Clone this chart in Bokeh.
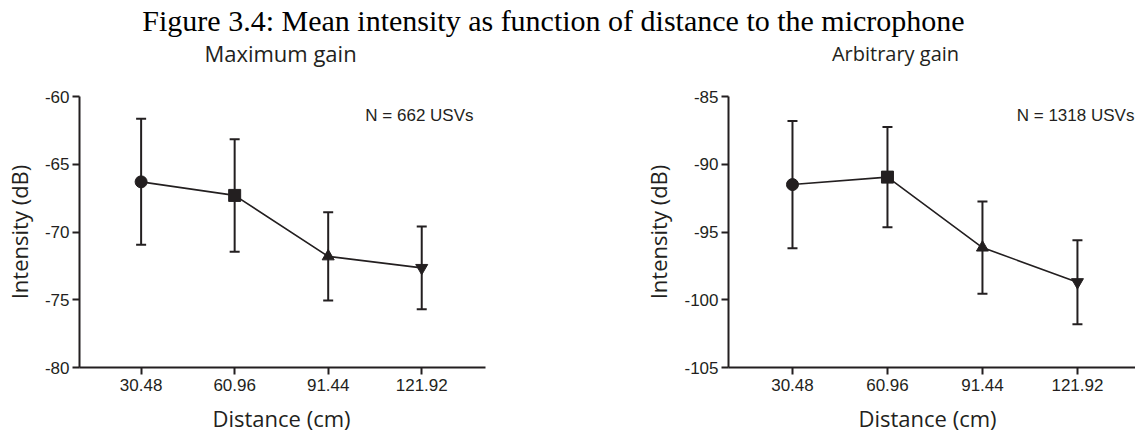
from bokeh.plotting import figure
from bokeh.models import Range1d, FixedTicker, Whisker, TeeHead, ColumnDataSource, Label
from bokeh.layouts import column, row
from bokeh.embed import file_html
from bokeh.resources import INLINE
from bokeh.core.properties import value

# ---------------- data ----------------
main_title = "Figure 3.4: Mean intensity as function of distance to the microphone"
distances = [30.48, 60.96, 91.44, 121.92]
distance_labels = ["30.48", "60.96", "91.44", "121.92"]
markers = ["circle", "square", "triangle", "inverted_triangle"]
x_label = "Distance (cm)"
y_label = "Intensity (dB)"

max_title = "Maximum gain"
max_mean = [-66.3, -67.3, -71.8, -72.65]
max_err = [4.65, 4.15, 3.25, 3.05]
max_ticks = [-80, -75, -70, -65, -60]
max_n = "N = 662 USVs"

arb_title = "Arbitrary gain"
arb_mean = [-91.5, -90.95, -96.15, -98.7]
arb_err = [4.7, 3.7, 3.4, 3.1]
arb_ticks = [-105, -100, -95, -90, -85]
arb_n = "N = 1318 USVs"

INK = "#231f20"
W = 1135
HEAD_H = 68
FOOT_H = 32
PANEL_H = 432 - HEAD_H - FOOT_H


def strip(height):
    f = figure(width=W, height=height, output_backend="svg", toolbar_location=None,
               x_range=Range1d(0, W), y_range=Range1d(0, height), min_border=0,
               x_axis_location=None, y_axis_location=None, title_location=None)
    f.grid.visible = False
    f.outline_line_color = None
    f.background_fill_color = "white"
    f.border_fill_color = "white"
    return f


def panel(mean, err, ticks, n_text, n_pos, width, bl, br, xr):
    p = figure(width=width, height=PANEL_H, output_backend="svg", toolbar_location=None,
               x_range=Range1d(*xr), y_range=Range1d(ticks[0], ticks[-1]),
               min_border_left=bl, min_border_right=br, min_border_top=96 - HEAD_H,
               min_border_bottom=33, title_location=None)
    p.background_fill_color = "white"
    p.border_fill_color = "white"
    p.outline_line_color = None
    p.grid.visible = False

    for ax in (p.xaxis[0], p.yaxis[0]):
        ax.axis_line_width = 2
        ax.axis_line_color = INK
        ax.major_tick_line_width = 2
        ax.major_tick_line_color = INK
        ax.major_tick_out = 7
        ax.major_tick_in = 0
        ax.minor_tick_line_color = None
        ax.major_label_text_font = "Liberation Sans"
        ax.major_label_text_font_size = "17px"
        ax.major_label_text_color = INK
        ax.axis_label_text_font = "Open Sans"
        ax.axis_label_text_font_size = "22px"
        ax.axis_label_text_font_style = "normal"
        ax.axis_label_text_color = INK

    p.xaxis.ticker = FixedTicker(ticks=distances)
    p.xaxis.major_label_overrides = dict(zip(distances, distance_labels))
    p.xaxis.major_label_standoff = 4

    p.yaxis.ticker = FixedTicker(ticks=ticks)
    p.yaxis.major_label_overrides = {t: str(t) for t in ticks}
    p.yaxis.axis_label = y_label
    p.yaxis.major_label_standoff = 3
    p.yaxis.axis_label_standoff = 8

    src = ColumnDataSource(dict(
        x=distances, mean=mean,
        upper=[m + e for m, e in zip(mean, err)],
        lower=[m - e for m, e in zip(mean, err)],
        marker=markers))

    wh = Whisker(base="x", upper="upper", lower="lower", source=src,
                 line_color=INK, line_width=2,
                 upper_head=TeeHead(size=10, line_color=INK, line_width=2),
                 lower_head=TeeHead(size=10, line_color=INK, line_width=2))
    p.add_layout(wh)
    p.line("x", "mean", source=src, line_color=INK, line_width=1.6)
    p.scatter("x", "mean", source=src, marker="marker", size=12,
              fill_color=INK, line_color=INK)

    p.add_layout(Label(x=n_pos[0], y=n_pos[1], text=n_text, text_align="right",
                       text_baseline="middle", text_font="Liberation Sans",
                       text_font_size="17px", text_color=INK))
    return p


p1 = panel(max_mean, max_err, max_ticks, max_n, (138.8, -61.4),
           567, 77, 82, (10.4, 142.7))
p2 = panel(arb_mean, arb_err, arb_ticks, arb_n, (140.2, -86.4),
           568, 161, 0, (9.95, 140.55))

# header: main title + panel subtitles
hdr = strip(HEAD_H)
hdr.text(x=[553], y=[HEAD_H - 20], text=[main_title], text_align="center",
         text_baseline="middle", text_font=value("Liberation Serif"),
         text_font_size="30px", text_color="black")
hdr.text(x=[280], y=[HEAD_H - 52.5], text=[max_title], text_align="center",
         text_baseline="middle", text_font=value("Open Sans"),
         text_font_size="22px", text_color=INK)
hdr.text(x=[895], y=[HEAD_H - 52.5], text=[arb_title], text_align="center",
         text_baseline="middle", text_font=value("Open Sans"),
         text_font_size="20px", text_color=INK)

# footer: x-axis titles
ftr = strip(FOOT_H)
ftr.text(x=[281, 927], y=[14.5, 14.5], text=[x_label, x_label],
         text_align="center", text_baseline="middle", text_font=value("Open Sans"),
         text_font_size="22px", text_color=INK)

layout = column(hdr, row(p1, p2, spacing=0), ftr, spacing=0)

with open("out.html", "w") as f:
    f.write(file_html(layout, INLINE))
